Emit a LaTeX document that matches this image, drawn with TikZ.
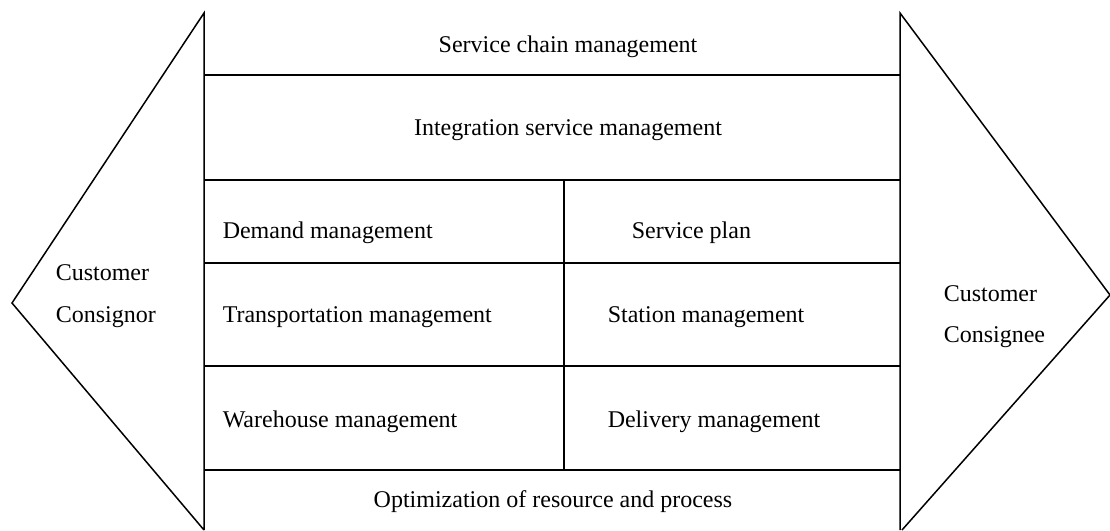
\documentclass[tikz,border=0pt]{standalone}
\usepackage{fontspec}
\setmainfont{Liberation Serif}
\usepackage{tikz}
\usetikzlibrary{calc}

\begin{document}
\begin{tikzpicture}[x=1pt, y=-1pt, line width=1.5pt,
    testo/.style={font=\fontsize{24}{28}\selectfont, inner sep=0pt}]
    % Parametri
    \pgfmathsetmacro{\xsx}{204}
    \pgfmathsetmacro{\xdx}{900}
    \pgfmathsetmacro{\xmid}{564}
    \pgfmathsetmacro{\ytop}{13}
    \pgfmathsetmacro{\ybot}{530}
    \useasboundingbox (0,0) rectangle (1110,530);
    % Frecce
    \coordinate (puntasx) at (12,303);
    \coordinate (puntadx) at (1110,295);
    \draw (\xsx,\ybot) -- (puntasx) -- (\xsx,\ytop) -- (\xsx,\ybot);
    \draw (\xdx,\ybot) -- (\xdx,\ytop) -- (puntadx) -- (902,\ybot);
    % Griglia
    \foreach \y in {75,180,263,366,470}
        \draw (\xsx,\y) -- (\xdx,\y);
    \draw (\xmid,180) -- (\xmid,470);
    % Testi
    \node[testo, anchor=base] (catena) at (568,52) {Service chain management};
    \node[testo, anchor=base] (integrazione) at (568,135) {Integration service management};
    \node[testo, anchor=base west] (domanda) at (222,238) {Demand management};
    \node[testo, anchor=base west] (piano) at (631,238) {Service plan};
    \node[testo, anchor=base west] (trasporto) at (222,322) {Transportation management};
    \node[testo, anchor=base west] (stazione) at (607,322) {Station management};
    \node[testo, anchor=base west] (magazzino) at (222,427) {Warehouse management};
    \node[testo, anchor=base west] (consegna) at (607,427) {Delivery management};
    \node[testo, anchor=base] (ottimizzazione) at (553,507) {Optimization of resource and process};
    \node[testo, anchor=base west] (clientesx) at (55,280) {Customer};
    \node[testo, anchor=base west] (mittente) at (55,322) {Consignor};
    \node[testo, anchor=base west] (clientedx) at (943,301) {Customer};
    \node[testo, anchor=base west] (destinatario) at (943,342) {Consignee};
\end{tikzpicture}
\end{document}
